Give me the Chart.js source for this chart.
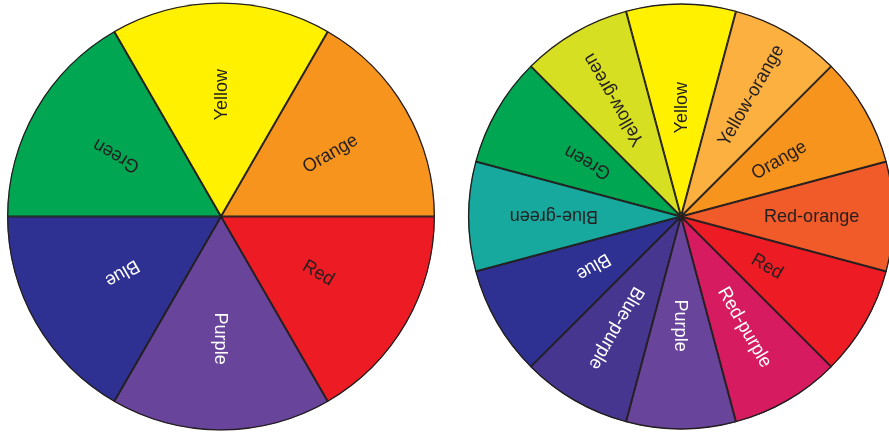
<!DOCTYPE html>
<html>
<head>
<meta charset="utf-8">
<script src="https://cdn.jsdelivr.net/npm/chart.js@4"></script>
<style>
  html, body { margin: 0; padding: 0; background: #fff; overflow: hidden; }
  body { width: 889px; height: 432px; position: relative; }
  .wheel { position: absolute; top: 0; }
  #wheelLeft { left: 0; width: 442px; height: 433px; }
  #wheelRight { left: 465px; width: 432px; height: 433px; }
</style>
</head>
<body>
<div class="wheel" id="wheelLeft"><canvas id="basic"></canvas></div>
<div class="wheel" id="wheelRight"><canvas id="full"></canvas></div>
<script>
// six-part wheel, clockwise from the top
const basicLabels = ['Yellow', 'Orange', 'Red', 'Purple', 'Blue', 'Green'];
const basicValues = [1, 1, 1, 1, 1, 1];
const basicColors = ['#fff100', '#f7941e', '#ed1c24', '#68449a', '#2e3192', '#00a651'];
const basicText = ['#231f20', '#231f20', '#231f20', '#ffffff', '#ffffff', '#231f20'];

// twelve-part wheel, clockwise from the top
const fullLabels = ['Yellow', 'Yellow-orange', 'Orange', 'Red-orange', 'Red', 'Red-purple',
  'Purple', 'Blue-purple', 'Blue', 'Blue-green', 'Green', 'Yellow-green'];
const fullValues = [1, 1, 1, 1, 1, 1, 1, 1, 1, 1, 1, 1];
const fullColors = ['#fff100', '#fbb040', '#f7941e', '#f15a29', '#ed1c24', '#d71b60',
  '#68449a', '#46368f', '#2e3192', '#17a99d', '#00a651', '#d7df23'];
const fullText = ['#231f20', '#231f20', '#231f20', '#231f20', '#231f20', '#ffffff',
  '#ffffff', '#ffffff', '#ffffff', '#231f20', '#231f20', '#231f20'];

// writes each label along its slice, reading outward from the centre
const radialLabels = {
  id: 'radialLabels',
  afterDatasetsDraw(chart, args, opts) {
    const ctx = chart.ctx;
    const meta = chart.getDatasetMeta(0);
    meta.data.forEach((arc, i) => {
      const { x, y, startAngle, endAngle } = arc.getProps(['x', 'y', 'startAngle', 'endAngle'], true);
      const mid = (startAngle + endAngle) / 2;
      ctx.save();
      ctx.translate(x, y);
      ctx.rotate(mid);
      ctx.scale(0.95, 1); // slightly condensed, like the original type
      ctx.font = opts.font;
      ctx.fillStyle = opts.colors[i];
      ctx.textAlign = 'left';
      ctx.textBaseline = 'middle';
      ctx.fillText(chart.data.labels[i], opts.inset / 0.95, 0.5);
      ctx.restore();
    });
  }
};

function makeWheel(id, labels, values, colors, textColors, rotation, radius, inset) {
  return new Chart(document.getElementById(id), {
    type: 'pie',
    data: {
      labels,
      datasets: [{
        data: values,
        backgroundColor: colors,
        borderColor: '#231f20',
        borderWidth: 1,
        borderAlign: 'inner'
      }]
    },
    options: {
      responsive: true,
      maintainAspectRatio: false,
      animation: false,
      rotation,
      radius,
      layout: { padding: 0 },
      events: [],
      plugins: {
        legend: { display: false },
        tooltip: { enabled: false },
        radialLabels: {
          font: '19px "Liberation Sans", Arial, sans-serif',
          colors: textColors,
          inset
        }
      }
    },
    plugins: [radialLabels]
  });
}

makeWheel('basic', basicLabels, basicValues, basicColors, basicText, -30, 214, 96);
makeWheel('full', fullLabels, fullValues, fullColors, fullText, -15, 213, 83);
</script>
</body>
</html>
